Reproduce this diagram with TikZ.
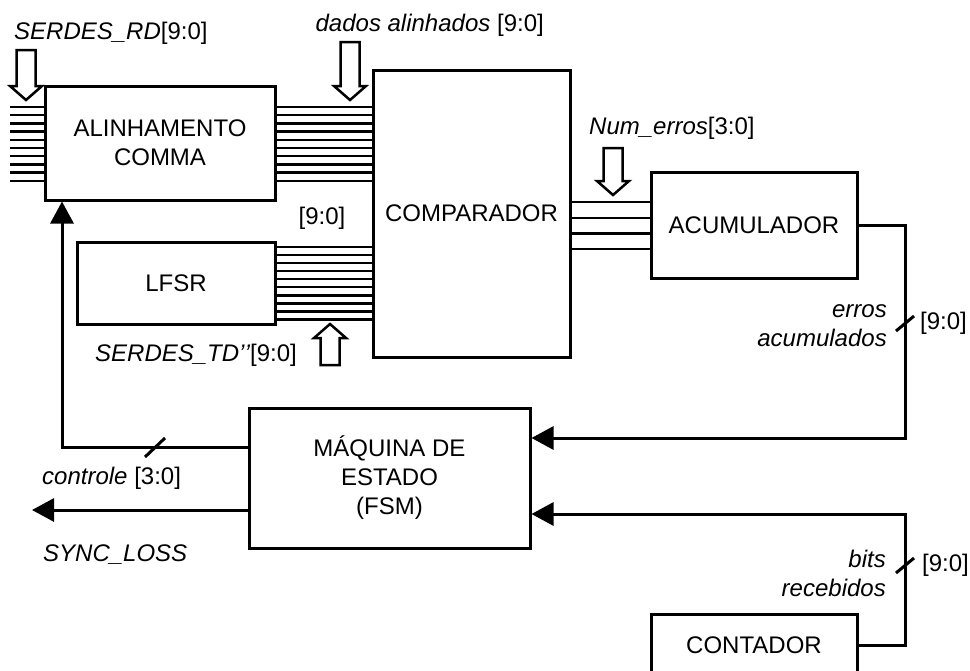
\documentclass[tikz,border=0pt]{standalone}
\usepackage{fontspec}
\setmainfont{Liberation Sans}
\usetikzlibrary{positioning,arrows.meta}
\tikzset{
  blockbox/.style={draw, line width=3pt, align=center, inner sep=2pt},
  busline/.style={line width=2.4pt},
  sigline/.style={line width=3pt},
  sigarrow/.style={line width=3pt, -{Triangle[length=22pt, width=23pt]}},
  textlabel/.style={inner sep=0pt},
  pics/busarrow/.style={code={
    \draw[line width=2.5pt, fill=white] (0,0) -- (-16,-14) -- (-9.5,-14) -- (-9.5,-#1)
      -- (9.5,-#1) -- (9.5,-14) -- (16,-14) -- cycle;
  }}
}

\begin{document}
\begin{tikzpicture}[x=1pt, y=-1pt, every node/.style={font=\fontsize{24}{29}\selectfont}]
  \useasboundingbox (0,0) rectangle (970,670);

  \node[blockbox, minimum width=230pt, minimum height=114pt] (alin) at (160,143) {ALINHAMENTO\\COMMA};
  \node[blockbox, minimum width=197pt, minimum height=287pt] (comp) at (471.5,213.5) {COMPARADOR};
  \node[blockbox, minimum width=206pt, minimum height=106pt] (acum) at (754,225) {ACUMULADOR};
  \node[blockbox, minimum width=198pt, minimum height=82pt] (lfsr) at (176,283) {LFSR};
  \node[blockbox, minimum width=281pt, minimum height=140pt] (fsm) at (389.5,478) {MÁQUINA DE\\ESTADO\\(FSM)};
  \node[blockbox, minimum width=206pt, minimum height=62pt] (cont) at (754,645) {CONTADOR};

  \foreach \i in {0,...,9} {
    \pgfmathsetmacro\yy{107+8.2*\i}
    \draw[busline] (10,\yy) -- (alin.west |- 0,\yy);
    \draw[busline] (alin.east |- 0,\yy) -- (comp.west |- 0,\yy);
    \pgfmathsetmacro\yl{247+8.05*\i}
    \draw[busline] (lfsr.east |- 0,\yl) -- (comp.west |- 0,\yl);
  }
  \foreach \i in {0,...,3} {
    \pgfmathsetmacro\yy{202+15.7*\i}
    \draw[busline] (comp.east |- 0,\yy) -- (acum.west |- 0,\yy);
  }

  \pic at (26,100) {busarrow=50};
  \pic at (350,100) {busarrow=58};
  \pic at (613,195) {busarrow=47};
  \pic[rotate=180] at (330,324) {busarrow=41};

  \coordinate (ctrlcorner) at (62,447);
  \coordinate (syncend) at (32,510);
  \coordinate (acumcorner) at (905,438);
  \coordinate (contcorner) at (905,514);
  \draw[sigarrow] (fsm.west |- ctrlcorner) -- (ctrlcorner) -- (ctrlcorner |- alin.south);
  \draw[sigarrow] (fsm.west |- syncend) -- (syncend);
  \draw[sigarrow] (acum.east) -| (acumcorner) -- (fsm.east |- acumcorner);
  \draw[sigarrow] (cont.east) -| (contcorner) -- (fsm.east |- contcorner);

  \draw[sigline] (145,457) -- (165,438);
  \draw[sigline] (896,331) -- (914,316);
  \draw[sigline] (896,573) -- (914,558);

  \node[textlabel, anchor=west] (rdlbl) at (14,33) {\textit{SERDES\_RD}[9:0]};
  \node[textlabel, anchor=east] (dadoslbl) at (544,25) {\textit{dados alinhados} [9:0]};
  \node[textlabel, anchor=west] (numlbl) at (589,128) {\textit{Num\_erros}[3:0]};
  \node[textlabel] (lfsrlbl) at (322,218) {[9:0]};
  \node[textlabel, anchor=west] (tdlbl) at (95,355) {\textit{SERDES\_TD’\kern0pt’}[9:0]};
  \node[textlabel, anchor=west] (ctrllbl) at (42,478) {\textit{controle} [3:0]};
  \node[textlabel, anchor=west] (synclbl) at (43,555) {\textit{SYNC\_LOSS}};
  \node[textlabel, anchor=east, align=right] (erroslbl) at (887,326) {\textit{erros}\\\textit{acumulados}};
  \node[textlabel, anchor=west] (erroswd) at (920,323) {[9:0]};
  \node[textlabel, anchor=east, align=right] (bitslbl) at (886,573) {\textit{bits}\\\textit{recebidos}};
  \node[textlabel, anchor=west] (bitswd) at (922,565) {[9:0]};
\end{tikzpicture}
\end{document}
